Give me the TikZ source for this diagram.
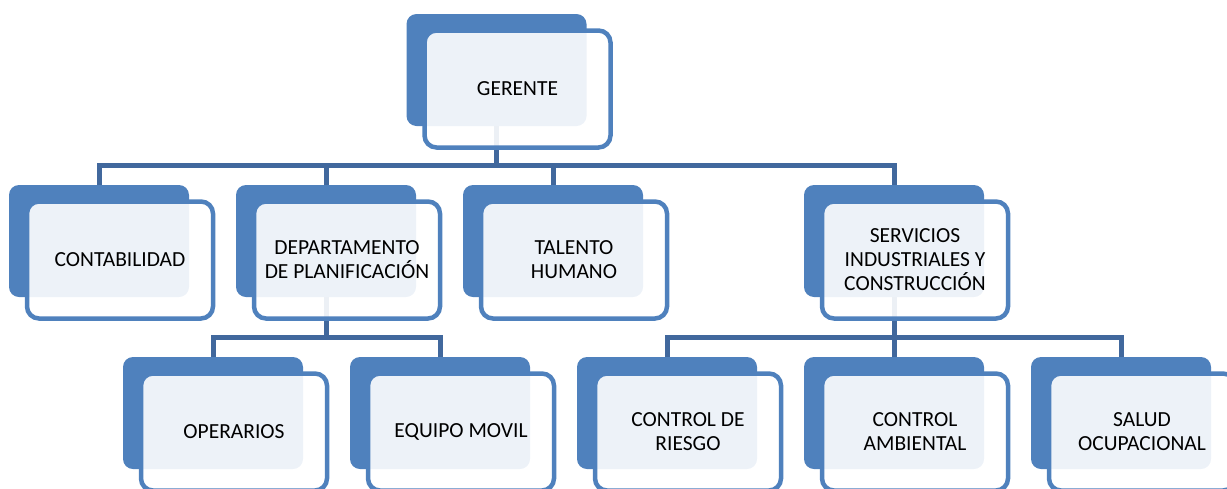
\documentclass[tikz,border=0pt]{standalone}
\usepackage{fontspec}
\setmainfont{Carlito}
\definecolor{accent}{HTML}{4F81BD}
\definecolor{conn}{HTML}{41689D}
\begin{document}
\begin{tikzpicture}[x=1pt,y=-1pt,
  backbox/.style={rectangle,rounded corners=10pt,fill=accent,draw=none,
    minimum width=180pt,minimum height=112pt,inner sep=0pt,outer sep=0pt,anchor=north west},
  frontbox/.style={rectangle,rounded corners=12pt,draw=accent,line width=4.5pt,
    fill=white,fill opacity=0.9,text opacity=1,text=black,
    minimum width=186pt,minimum height=117pt,inner sep=0pt,outer sep=0pt,
    align=center,font=\fontsize{21.5}{24}\selectfont},
  link/.style={draw=conn,line width=5pt}]
\useasboundingbox (0,0) rectangle (1227,488);
\begin{scope}
\clip (0,0) rectangle (1227,488);
% back shapes
\node[backbox] (gb) at (406.5,14) {};
\node[backbox] (cb) at (9,185) {};
\node[backbox] (db) at (236,185) {};
\node[backbox] (tb) at (463,185) {};
\node[backbox] (sb) at (804,185) {};
\node[backbox] (ob) at (123,357) {};
\node[backbox] (eb) at (350,357) {};
\node[backbox] (rb) at (577,357) {};
\node[backbox] (ab) at (804,357) {};
\node[backbox] (hb) at (1031,357) {};
% connectors
\coordinate (bus1) at (0,165);
\coordinate (bus2) at (0,337);
\draw[link] (gb.south) -- (gb.south |- bus1);
\draw[link] (cb.north) |- (gb.south |- bus1) -| (sb.north);
\draw[link] (db.north) -- (db.north |- bus1);
\draw[link] (tb.north) -- (tb.north |- bus1);
\draw[link] (db.south) -- (db.south |- bus2);
\draw[link] (ob.north) |- (db.south |- bus2) -| (eb.north);
\draw[link] (sb.south) -- (sb.south |- bus2);
\draw[link] (rb.north) |- (sb.south |- bus2) -| (hb.north);
\draw[link] (ab.north) -- (ab.north |- bus2);
% front shapes
\node[frontbox] (g) at ([shift={(111,75)}]gb.north west) {GERENTE};
\node[frontbox] (c) at ([shift={(111,75)}]cb.north west) {CONTABILIDAD};
\node[frontbox] (d) at ([shift={(111,75)}]db.north west) {DEPARTAMENTO\\DE PLANIFICACIÓN};
\node[frontbox] (t) at ([shift={(111,75)}]tb.north west) {TALENTO\\HUMANO};
\node[frontbox] (s) at ([shift={(111,75)}]sb.north west) {SERVICIOS\\INDUSTRIALES Y\\CONSTRUCCIÓN};
\node[frontbox] (o) at ([shift={(111,75)}]ob.north west) {OPERARIOS};
\node[frontbox] (e) at ([shift={(111,75)}]eb.north west) {EQUIPO MOVIL};
\node[frontbox] (r) at ([shift={(111,75)}]rb.north west) {CONTROL DE\\RIESGO};
\node[frontbox] (a) at ([shift={(111,75)}]ab.north west) {CONTROL\\AMBIENTAL};
\node[frontbox] (h) at ([shift={(111,75)}]hb.north west) {SALUD\\OCUPACIONAL};
\end{scope}
\end{tikzpicture}
\end{document}
